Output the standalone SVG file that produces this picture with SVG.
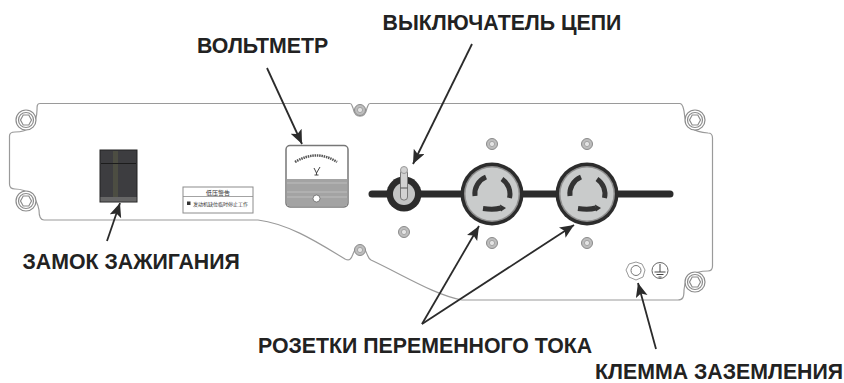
<svg xmlns="http://www.w3.org/2000/svg" width="844" height="383" viewBox="0 0 844 383">
<style>
.lbl{font:bold 21.300px "Liberation Sans",Arial,sans-serif;fill:#222}
.panel{fill:none;stroke:#9a9a9a;stroke-width:1.2}
.bolt{fill:#fff;stroke:#8c8c8c;stroke-width:1.2}
.scr{fill:#bdbdbd;stroke:#8a8a8a;stroke-width:1}
.arr{stroke:#2b2b2b;stroke-width:1.800;fill:none;marker-end:url(#ah)}
.cn{font-family:"Noto Sans CJK SC",sans-serif;fill:#333}
.pin{fill:none;stroke:#333;stroke-width:5}
</style>
<defs>
<marker id="ah" markerUnits="userSpaceOnUse" markerWidth="16" markerHeight="14" refX="14" refY="6" orient="auto"><path d="M0 0L14 6L0 12L3 6Z" fill="#2b2b2b"/></marker>
<g id="bolt"><circle r="10" class="bolt"/><circle r="7.500" class="bolt"/><path d="M-5.500 0L-2.800-5H2.800L5.500 0L2.800 5H-2.800Z" class="bolt"/></g>
<g id="screw"><circle r="5.500" class="scr"/><circle r="2.600" fill="#e4e4e4" stroke="#999" stroke-width=".8"/></g>
<g id="sock"><circle r="31.500" fill="#2c2c2c"/><circle r="28" fill="#8f8f8f"/><circle r="26.500" fill="#c9cbcb"/>
<path class="pin" d="M-17 2A18 18 0 0 1-6-17"/><path class="pin" d="M10-15A18 18 0 0 1 17.500 4"/><path class="pin" d="M-9 14.500Q2 16 9 14"/><path d="M8 10.500L14 14L9 17.500Z" fill="#333"/></g>
</defs>
<rect width="844" height="383" fill="#fff"/>
<g id="panel">
<path class="panel" d="M40 103.500H350C352 103.500 352 106 353 108C355 119 365 119 367 108C368 106 368 103.500 370 103.500H680C683 104 683 107 684 111C685 128 695 132 708 133C711 133 712.500 135 712.500 138V266C712.500 269 711 271 708 271C695 271 685 275 684 290C684 297 683 300 678 300H462C435 295 405 276 371 260C368 258 368 256 367 254C363 243 357 243 353 254C351 260 349 261 345 259C320 244 290 224 258 220H44C40 220 39 216 39 210C37 198 28 189 15 189C11 189 9.500 187 9.500 184V136C9.500 134 11 132 15 132C28 132 37 125 37 110C37 106 37 103.500 40 103.500Z"/>
</g>
<g id="bolt-tl"><use href="#bolt" x="26" y="120"/></g>
<g id="bolt-bl"><use href="#bolt" x="26" y="201"/></g>
<g id="bolt-tr"><use href="#bolt" x="695" y="120"/></g>
<g id="bolt-br"><use href="#bolt" x="695" y="282"/></g>
<g id="screw-top"><use href="#screw" x="360" y="110"/></g>
<g id="screw-bottom"><use href="#screw" x="360" y="250"/></g>
<g id="screws"><use href="#screw" x="492" y="144"/><use href="#screw" x="492" y="243"/><use href="#screw" x="587" y="144"/><use href="#screw" x="587" y="243"/><use href="#screw" x="404" y="232"/></g>
<g id="ignition">
<rect x="100" y="150" width="37" height="52" fill="#3d3d40" stroke="#222" stroke-width="1"/>
<rect x="113" y="151" width="5" height="50" fill="#4c4d42"/>
<path d="M101 163.500H136" stroke="#1c1c1c" stroke-width="1"/>
<rect x="100.500" y="197" width="36" height="4.500" fill="#666"/>
</g>
<g id="warning-label">
<rect x="183" y="187" width="70" height="26" fill="#fff" stroke="#8c8c8c" stroke-width="1"/>
<path d="M183 196.500H253" stroke="#8c8c8c" stroke-width=".8"/>
<text class="cn" x="218" y="194.500" font-size="6" text-anchor="middle">低压警告</text>
<rect x="187" y="201.500" width="3.500" height="3.500" fill="#333"/>
<text class="cn" x="193" y="205.500" font-size="5">发动机缺位临时停止工作</text>
</g>
<g id="voltmeter">
<rect x="286" y="145.500" width="62" height="61.500" rx="4" fill="#fff" stroke="#777" stroke-width="1.500"/>
<path d="M286.800 179H347.200V203Q347.200 206.300 344 206.300H290Q286.800 206.300 286.800 203Z" fill="#a3a3a3"/>
<path d="M287 183H347M287 192H347M287 197H347" stroke="#c4c4c4" stroke-width=".8"/>
<path d="M295 162Q317 149 337 162" fill="none" stroke="#555" stroke-width="2.500" stroke-dasharray="1.500 .8"/>
<path d="M314 168L316.500 173L320 167M316.500 173V175M314.500 175H318.500" fill="none" stroke="#444" stroke-width="1"/>
<circle cx="316.500" cy="198.500" r="3.500" fill="#fff" stroke="#666" stroke-width=".8"/>
</g>
<g id="bus-bar"><path d="M372 194H670" stroke="#2c2c2c" stroke-width="7" stroke-linecap="round"/></g>
<g id="breaker">
<circle cx="404" cy="194" r="17.500" fill="#2c2c2c"/>
<circle cx="404" cy="194" r="11" fill="#c4c5c5"/>
<rect x="400.500" y="170" width="7" height="30" rx="3" fill="#d2d2d2" stroke="#777" stroke-width="1"/>
<circle cx="404" cy="170" r="3.500" fill="#d2d2d2" stroke="#999" stroke-width="1"/>
<path d="M400.500 188H407.500" stroke="#555"/>
</g>
<g id="socket-1"><use href="#sock" x="492" y="194"/></g>
<g id="socket-2"><use href="#sock" x="587" y="194"/></g>
<g id="ground">
<path d="M636 262L642 264L645 270L643 277L636 280L629 277L626 270L629 264Z" fill="#fff" stroke="#999" stroke-width="1"/>
<circle cx="636" cy="270.500" r="5" fill="#fff" stroke="#777" stroke-width="1"/>
<circle cx="660" cy="270.500" r="8" fill="#fff" stroke="#666" stroke-width="1"/>
<path d="M660 264V272M654.500 272H665.500M656.500 274.500H663.500M658.500 277H661.500" stroke="#444" stroke-width="1" fill="none"/>
</g>
<g id="connectors">
<path class="arr" d="M267 68L302 144"/>
<path class="arr" d="M472 44L413 164"/>
<path class="arr" d="M107 241L120 203"/>
<path class="arr" d="M422 324L479 226"/>
<path class="arr" d="M422 324L574 225"/>
<path class="arr" d="M656 349L638 283"/>
</g>
<g id="labels">
<text class="lbl" x="197" y="53">ВОЛЬТМЕТР</text>
<text class="lbl" x="382.500" y="30">ВЫКЛЮЧАТЕЛЬ ЦЕПИ</text>
<text class="lbl" x="22.500" y="269">ЗАМОК ЗАЖИГАНИЯ</text>
<text class="lbl" x="258" y="352.500">РОЗЕТКИ ПЕРЕМЕННОГО ТОКА</text>
<text class="lbl" x="595" y="379">КЛЕММА ЗАЗЕМЛЕНИЯ</text>
</g>
</svg>
